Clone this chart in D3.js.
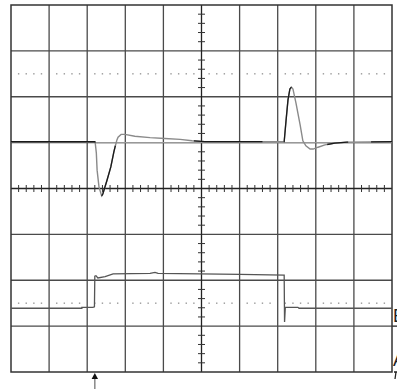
<!DOCTYPE html>
<html><head><meta charset="utf-8">
<script src="https://cdn.jsdelivr.net/npm/d3@7"></script>
<style>html,body{margin:0;padding:0;background:#fff;overflow:hidden}</style>
</head><body>
<svg id="c" width="397" height="389"></svg>
<script>
// Screen in divisions: x 0..10, y -4..4
const xDivs = d3.range(0, 11);
const yDivs = d3.range(-4, 5);
const dottedRows = [2.5, -2.5];
const channelLabels = [{name: "B", level: -2.91}, {name: "A", level: -3.87}];
const triggerPos = 2.2;

// Channel A (upper trace): [time div, volt div]
const traceA = [
  [0,1.02],[2.20,1.02],[2.21,1.00],[2.24,0.77],[2.26,0.40],[2.31,0.03],[2.38,-0.16],[2.41,-0.12],
  [2.52,0.18],[2.62,0.47],[2.70,0.80],[2.73,0.90],[2.78,1.06],[2.81,1.12],[2.89,1.18],[2.99,1.18],
  [3.25,1.14],[3.65,1.11],[4.04,1.09],[4.44,1.07],[4.75,1.04],[5.09,1.02],[7.17,1.02],
  [7.22,1.49],[7.27,1.93],[7.32,2.17],[7.36,2.21],[7.40,2.17],[7.48,1.86],[7.59,1.38],[7.66,1.04],
  [7.74,0.93],[7.85,0.86],[7.93,0.86],[8.06,0.90],[8.24,0.95],[8.50,0.99],[8.82,1.01],[10,1.02]
];
const darkRangesA = [[0,2.21],[2.38,2.74],[4.8,6.6],[7.16,7.36],[8.3,8.85],[9.45,10]];
const refLineA = [[2.2,1.0],[10,1.0]];

// Channel B (lower trace)
const traceB = [
  [0,-2.61],[1.86,-2.61],[1.86,-2.59],[2.15,-2.59],[2.19,-2.58],[2.20,-1.91],[2.23,-1.90],
  [2.28,-1.95],[2.47,-1.92],[2.68,-1.86],[3.65,-1.85],[3.78,-1.83],[3.86,-1.85],[4.96,-1.86],
  [6.01,-1.87],[7.17,-1.89],[7.18,-2.91],[7.20,-2.59],[7.53,-2.59],[7.56,-2.61],[10,-2.61]
];

const svg = d3.select("#c");
const x = d3.scaleLinear().domain([0,10]).range([11,392]);
const y = d3.scaleLinear().domain([-4,4]).range([372,5]);

// grid
const g = svg.append("g");
g.selectAll(".vx").data(xDivs.filter(d=>d>0&&d<10&&d!==5)).join("line")
  .attr("x1",d=>x(d)).attr("x2",d=>x(d)).attr("y1",y(4)).attr("y2",y(-4))
  .attr("stroke","#4a4a4a").attr("stroke-width",1.3);
g.selectAll(".hy").data(yDivs.filter(d=>d>-4&&d<4&&d!==0)).join("line")
  .attr("x1",x(0)).attr("x2",x(10)).attr("y1",d=>y(d)).attr("y2",d=>y(d))
  .attr("stroke","#4a4a4a").attr("stroke-width",1.3);
// center axes
g.append("line").attr("x1",x(5)).attr("x2",x(5)).attr("y1",y(4)).attr("y2",y(-4)).attr("stroke","#222").attr("stroke-width",1.3);
g.append("line").attr("x1",x(0)).attr("x2",x(10)).attr("y1",y(0)).attr("y2",y(0)).attr("stroke","#222").attr("stroke-width",1.3);
// minor ticks
const vt = d3.range(-4,4.001,0.2).map(v=>+v.toFixed(1)).filter(v=>Math.abs(v-Math.round(v))>0.01);
g.selectAll(".vt").data(vt).join("line")
  .attr("x1",x(5)-3.5).attr("x2",x(5)+3.5).attr("y1",d=>y(d)).attr("y2",d=>y(d))
  .attr("stroke","#333").attr("stroke-width",1);
const ht = d3.range(0,10.001,0.2).map(v=>+v.toFixed(1)).filter(v=>Math.abs(v-Math.round(v))>0.01);
g.selectAll(".ht").data(ht).join("line")
  .attr("x1",d=>x(d)).attr("x2",d=>x(d)).attr("y1",y(0)-3.5).attr("y2",y(0)+3.5)
  .attr("stroke","#333").attr("stroke-width",1);
// dotted rows
dottedRows.forEach(r=>{
  g.selectAll(null).data(ht).join("rect")
    .attr("x",d=>x(d)-0.7).attr("y",y(r)-0.7).attr("width",1.4).attr("height",1.4).attr("fill","#999");
});
// extended reference marks for channel grounds
g.append("line").attr("x1",x(10)).attr("x2",397).attr("y1",y(-3)).attr("y2",y(-3)).attr("stroke","#222").attr("stroke-width",1.3);
// border
g.append("rect").attr("x",x(0)).attr("y",y(4)).attr("width",x(10)-x(0)).attr("height",y(-4)-y(4))
  .attr("fill","none").attr("stroke","#333").attr("stroke-width",1.5);

// traces
const line = d3.line().x(d=>x(d[0])).y(d=>y(d[1]));
svg.append("path").datum(refLineA).attr("d",line).attr("fill","none").attr("stroke","#999").attr("stroke-width",1.2);
svg.append("path").datum(traceA).attr("d",line).attr("fill","none").attr("stroke","#8a8a8a").attr("stroke-width",1.4);
darkRangesA.forEach(([a,b])=>{
  const seg = traceA.filter(p=>p[0]>=a-1e-9 && p[0]<=b+1e-9);
  const interp = t => { for(let i=0;i<traceA.length-1;i++){const p=traceA[i],q=traceA[i+1]; if(t>=p[0]&&t<=q[0]&&q[0]>p[0]) return [t,p[1]+(q[1]-p[1])*(t-p[0])/(q[0]-p[0])];} return null;};
  const pts = [interp(a),...seg,interp(b)].filter(Boolean).sort((m,n)=>m[0]-n[0]);
  svg.append("path").datum(pts).attr("d",line).attr("fill","none").attr("stroke","#1a1a1a").attr("stroke-width",1.3);
});
svg.append("path").datum(traceB).attr("d",line).attr("fill","none").attr("stroke","#555").attr("stroke-width",1.3);

// channel labels at right edge (clipped by the window, as in the reference)
svg.selectAll(".lab").data(channelLabels).join("text")
  .attr("x",x(10)+1).attr("y",d=>y(d.level))
  .attr("font-family","Liberation Sans, Arial, sans-serif").attr("font-size",18)
  .attr("fill","#222").text(d=>d.name);
svg.append("path").attr("d",`M${x(10)+2},${y(-4)} L397,${y(-4)} M${x(10)+4},${y(-4)} L${x(10)+3},${y(-4)+7}`)
  .attr("stroke","#222").attr("stroke-width",1.3).attr("fill","none");

// trigger arrow
const tx = x(triggerPos);
svg.append("line").attr("x1",tx).attr("x2",tx).attr("y1",378).attr("y2",389).attr("stroke","#888").attr("stroke-width",1.5);
svg.append("path").attr("d",`M${tx},${373} L${tx-3.2},${379} L${tx+3.2},${379} Z`).attr("fill","#111");
</script>
</body></html>
